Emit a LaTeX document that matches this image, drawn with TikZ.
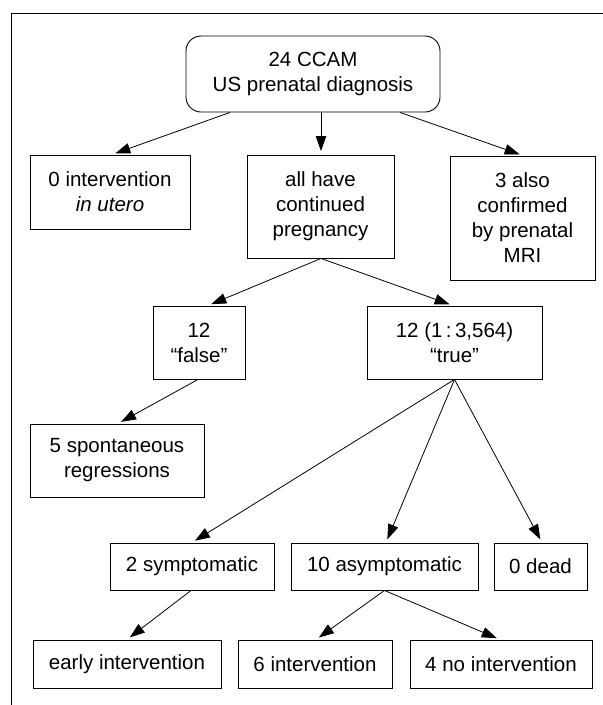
\documentclass[tikz,border=0pt]{standalone}
\usepackage{fontspec}
\setmainfont{Liberation Sans}
\usetikzlibrary{arrows.meta,calc}
\begin{document}
\begin{tikzpicture}[x=1pt,y=-1pt,
  box/.style={draw,line width=0.9pt,align=center,inner sep=0pt,
    font=\fontsize{20.5}{25}\selectfont},
  arr/.style={line width=0.8pt,-{Triangle[length=15pt,width=10.5pt]},shorten >=3.5pt}]
\useasboundingbox (0,0) rectangle (603,705);
\draw[line width=0.9pt] (603,13) -- (11,13) -- (11,705);
\node[box,rounded corners=15pt,minimum width=254pt,minimum height=76pt] (top) at (313,74) {24 CCAM\\US prenatal diagnosis};
\node[box,minimum width=160pt,minimum height=74pt] (n0int) at (110,192) {0 intervention\\\textit{in utero}};
\node[box,minimum width=147pt,minimum height=103pt] (allhave) at (320.5,206.5) {all have\\continued\\pregnancy};
\node[box,minimum width=145pt,minimum height=124pt] (also3) at (522.5,218) {3 also\\confirmed\\by prenatal\\MRI};
\node[box,minimum width=92pt,minimum height=73pt] (false12) at (199,342.5) {12\\“false”};
\node[box,minimum width=175pt,minimum height=73pt] (true12) at (454.5,342.5) {12 (1\,:\,3,564)\\“true”};
\node[box,minimum width=174pt,minimum height=73pt] (spont) at (117,460.5) {5 spontaneous\\regressions};
\node[box,minimum width=164pt,minimum height=47pt] (sympt) at (192,566.5) {2 symptomatic};
\node[box,minimum width=187pt,minimum height=47pt] (asympt) at (384.5,566.5) {10 asymptomatic};
\node[box,minimum width=93pt,minimum height=47pt] (dead) at (540.5,566.5) {0 dead};
\node[box,minimum width=188pt,minimum height=48pt] (early) at (127,664) {early intervention};
\node[box,minimum width=154pt,minimum height=48pt] (six) at (315,664) {6 intervention};
\node[box,minimum width=182pt,minimum height=48pt] (four) at (501,664) {4 no intervention};
\draw[arr] ($(top.south)+(-83,0)$) -- ($(n0int.north)+(2,0)$);
\draw[arr] ($(top.south)+(8,0)$) -- ($(allhave.north)+(0.5,0)$);
\draw[arr] ($(top.south)+(87,0)$) -- ($(also3.north)+(0.5,0)$);
\draw[arr] ($(allhave.south)+(0.5,0)$) -- ($(false12.north)+(9,0)$);
\draw[arr] ($(allhave.south)+(0.5,0)$) -- ($(true12.north)+(-1.5,0)$);
\draw[arr] ($(false12.south)+(-1,0)$) -- ($(spont.north)+(1,0)$);
\draw[arr] (true12.south) -- (sympt.north);
\draw[arr] (true12.south) -- ($(asympt.north)+(1.5,0)$);
\draw[arr] (true12.south) -- ($(dead.north)+(1.5,0)$);
\draw[arr] ($(sympt.south)+(-1,0)$) -- (early.north);
\draw[arr] (asympt.south) -- ($(six.north)+(1,0)$);
\draw[arr] (asympt.south) -- ($(four.north)+(-1,0)$);
\end{tikzpicture}
\end{document}
